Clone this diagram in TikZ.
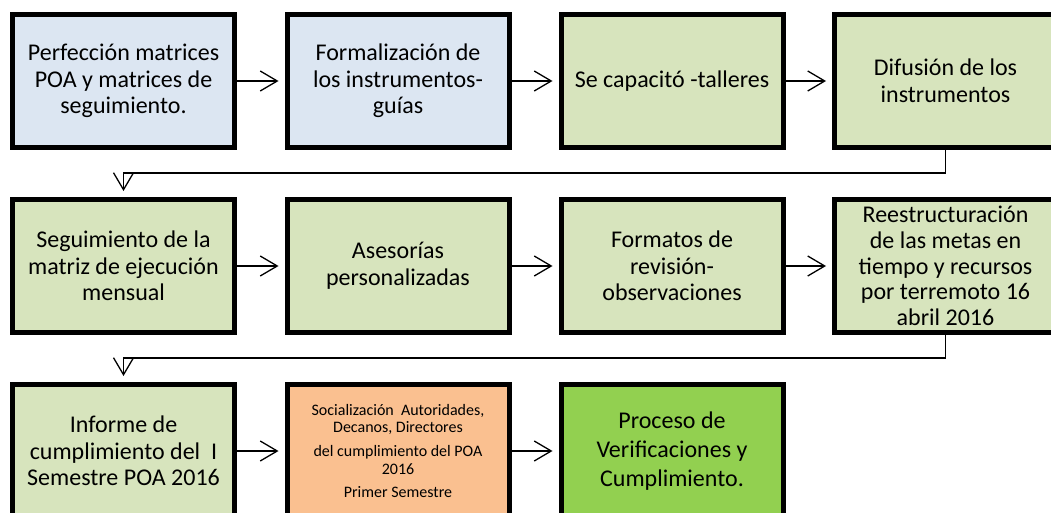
\documentclass[tikz,border=0pt]{standalone}
\usepackage{fontspec}
\setmainfont{Carlito}
\usetikzlibrary{arrows.meta}

\definecolor{azul}{HTML}{DCE6F2}
\definecolor{verde}{HTML}{D7E4BD}
\definecolor{naranja}{HTML}{FAC090}
\definecolor{verdefuerte}{HTML}{92D050}

\tikzset{
  caja/.style={draw=black, line width=5pt, minimum width=222pt, minimum height=133pt,
    align=center, inner sep=0pt, font=\fontsize{24}{26.7}\selectfont},
  flecha/.style={line width=1.3pt, -{Straight Barb[length=17pt,width=20pt]}, shorten >=6pt}
}

\begin{document}
\begin{tikzpicture}[x=1pt,y=-1pt]

\useasboundingbox (0,0) rectangle (1051,513);
\clip (0,0) rectangle (1051,513);

%% row 1
\node[caja, fill=azul] (perf) at (123.5,81) {Perfección matrices\\POA y matrices de\\seguimiento.};
\node[caja, fill=azul] (form) at (398,81) {Formalización de\\los instrumentos-\\guías};
\node[caja, fill=verde] (capa) at (672,81) {Se capacitó -talleres};
\node[caja, fill=verde] (difu) at (945.5,81) {Difusión de los\\instrumentos};

%% row 2
\node[caja, fill=verde] (segu) at (123.5,266) {Seguimiento de la\\matriz de ejecución\\mensual};
\node[caja, fill=verde] (ases) at (398,266) {Asesorías\\personalizadas};
\node[caja, fill=verde] (fmto) at (672,266) {Formatos de\\revisión-\\observaciones};
\node[caja, fill=verde, font=\fontsize{24}{25.8}\selectfont] (rees) at (945.5,266)
  {Reestructuración\\de las metas en\\tiempo y recursos\\por terremoto 16\\abril 2016};

%% row 3
\node[caja, fill=verde] (info) at (123.5,451) {Informe de\\cumplimiento del~ I\\Semestre POA 2016};
\node[caja, fill=naranja, font=\fontsize{16}{17.6}\selectfont] (soci) at (398,451)
  {Socialización~ Autoridades,\\Decanos, Directores\\[6pt]del cumplimiento del POA\\2016\\[6pt]Primer Semestre};
\node[caja, fill=verdefuerte, font=\fontsize{24}{29.3}\selectfont] (proc) at (672,451)
  {Proceso de\\Verificaciones y\\Cumplimiento.};

%% bends
\coordinate (q1) at (945.5,173);
\coordinate (q2) at (945.5,358);

%%% arrows
\draw[flecha] (perf) -- (form);
\draw[flecha] (form) -- (capa);
\draw[flecha] (capa) -- (difu);
\draw[flecha] (difu.south) -- (q1) -| (segu.north);
\draw[flecha] (segu) -- (ases);
\draw[flecha] (ases) -- (fmto);
\draw[flecha] (fmto) -- (rees);
\draw[flecha] (rees.south) -- (q2) -| (info.north);
\draw[flecha] (info) -- (soci);
\draw[flecha] (soci) -- (proc);

\end{tikzpicture}
\end{document}
